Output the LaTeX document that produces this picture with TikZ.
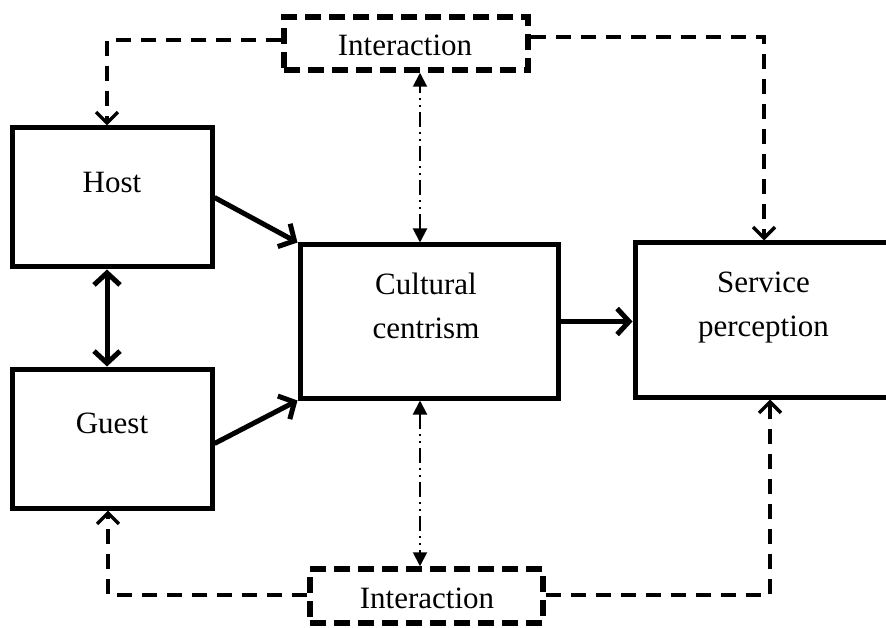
\documentclass[tikz,border=0pt]{standalone}
\usepackage{fontspec}
\setmainfont{Liberation Serif}
\usetikzlibrary{arrows.meta}
\begin{document}
\begin{tikzpicture}[x=1pt,y=-1pt,
  box/.style={draw, line width=5pt, inner sep=0pt},
  ibox/.style={draw, line width=5.5pt, dash pattern=on 16pt off 8pt, inner sep=0pt},
  dconn/.style={line width=3.5pt, dash pattern=on 15pt off 10pt, -{Straight Barb[length=11pt,width=22pt]}},
  sconn/.style={line width=5pt, -{Straight Barb[length=12pt,width=26pt]}},
  sdouble/.style={line width=5pt, {Straight Barb[length=12pt,width=26pt]}-{Straight Barb[length=12pt,width=26pt]}},
  ddconn/.style={line width=2pt, dash pattern=on 15pt off 5pt on 2pt off 5pt on 2pt off 5pt, {Triangle[length=14pt,width=14pt]}-{Triangle[length=14pt,width=14pt]}},
  txt/.style={font=\fontsize{31}{44}\selectfont, inner sep=0pt, anchor=base, align=center}]
\useasboundingbox (0,0) rectangle (886,628);
% boxes
\node[box, minimum width=200pt, minimum height=139pt] (host) at (112,197.5) {};
\node[box, minimum width=200pt, minimum height=139pt] (guest) at (112,438.5) {};
\node[box, minimum width=258pt, minimum height=153pt] (cult) at (429,321.5) {};
\node[box, minimum width=258pt, minimum height=154pt] (serv) at (764,320) {};
\node[ibox, minimum width=244pt, minimum height=53pt] (itop) at (406,43.5) {};
\node[ibox, minimum width=233pt, minimum height=54pt] (ibot) at (426.5,596) {};
% texts
\node[txt] (hostt) at (112,193) {Host};
\node[txt] (guestt) at (112,433) {Guest};
\node[txt] (cultt) at (426,338) {Cultural\\centrism};
\node[txt] (servt) at (763.5,337) {Service\\perception};
\node[txt] (itopt) at (405,56) {Interaction};
\node[txt] (ibott) at (427,608) {Interaction};
% solid connectors
\draw[sconn] (host.east) -- (cult.north west);
\draw[sconn] ([yshift=-5pt]guest.east) -- (cult.south west);
\draw[sconn] (cult.east) -- (cult.east -| serv.west);
\draw[sdouble] ([xshift=-5pt]host.south) -- ([xshift=-5pt]guest.north);
% dashed connectors
\draw[dconn] ([yshift=3.5pt]itop.west) -| ([xshift=-5pt]host.north);
\draw[dconn] ([yshift=6.5pt]itop.east) -| (serv.north);
\draw[dconn] ([yshift=1pt]ibot.west) -| ([xshift=-4pt]guest.south);
\draw[dconn] ([yshift=1pt]ibot.east) -| ([xshift=6pt]serv.south);
% dash-dot connectors
\draw[ddconn] ([xshift=-9pt]cult.north) -- ([xshift=-9pt]cult.north |- itop.south);
\draw[ddconn] ([xshift=-9pt]cult.south) -- ([xshift=-9pt]cult.south |- ibot.north);
\end{tikzpicture}
\end{document}
